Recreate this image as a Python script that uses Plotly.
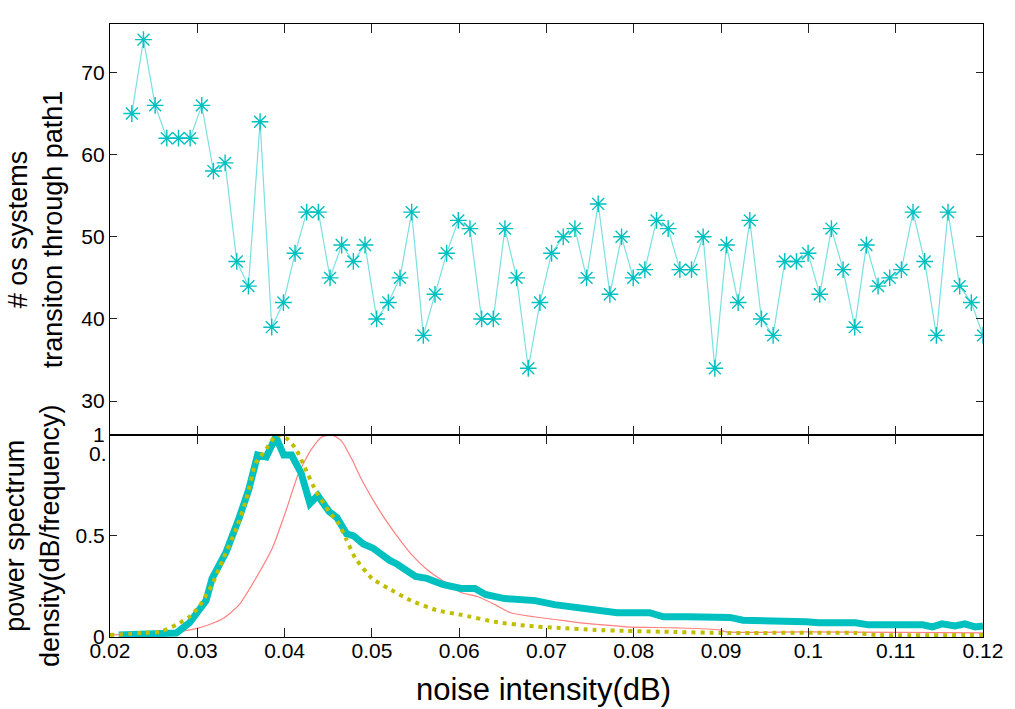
import numpy as np
import plotly.graph_objects as go

# ---- top panel data: transitions through path1 vs noise intensity ----
top_x_start = 0.0225
top_x_end = 0.12
transitions = [65, 74, 66, 62, 62, 62, 66, 58, 59, 47, 44, 64, 39, 42, 48, 53, 53, 45, 49, 47,
               49, 40, 42, 45, 53, 38, 43, 48, 52, 51, 40, 40, 51, 45, 34, 42, 48, 50, 51, 45,
               54, 43, 50, 45, 46, 52, 51, 46, 46, 50, 34, 49, 42, 52, 40, 38, 47, 47, 48, 43,
               51, 46, 39, 49, 44, 45, 46, 53, 47, 38, 53, 44, 42, 38]
noise_levels = np.linspace(top_x_start, top_x_end, len(transitions))

# ---- bottom panel data: normalised power spectrum density ----
cyan_x = [0.021, 0.0276, 0.0291, 0.0302, 0.0310, 0.0317, 0.0333, 0.0348, 0.0359, 0.0369,
          0.0379, 0.0390, 0.0399, 0.0408, 0.0419, 0.0429, 0.0438, 0.0451, 0.0460, 0.0471,
          0.0479, 0.0490, 0.0501, 0.0520, 0.0529, 0.0550, 0.0563, 0.0581, 0.0602, 0.0618,
          0.0630, 0.0652, 0.0687, 0.0709, 0.0724, 0.0747, 0.0766, 0.0781, 0.0818, 0.0834,
          0.0861, 0.0883, 0.0910, 0.0925, 0.0960, 0.0974, 0.0997, 0.1012, 0.1054, 0.1069,
          0.1131, 0.1142, 0.1153, 0.1168, 0.1179, 0.1191, 0.12]
cyan_y = [0.01, 0.02, 0.07, 0.13, 0.18, 0.29, 0.42, 0.59, 0.73, 0.90,
          0.89, 0.99, 0.90, 0.90, 0.81, 0.66, 0.70, 0.62, 0.59, 0.51,
          0.50, 0.46, 0.44, 0.38, 0.36, 0.30, 0.29, 0.26, 0.24, 0.24,
          0.21, 0.19, 0.18, 0.16, 0.15, 0.14, 0.13, 0.12, 0.12, 0.10,
          0.10, 0.097, 0.097, 0.083, 0.083, 0.075, 0.075, 0.07, 0.07, 0.06,
          0.06, 0.05, 0.065, 0.055, 0.065, 0.05, 0.055]

yellow_x = [0.020, 0.0238, 0.0257, 0.0276, 0.0291, 0.0302, 0.0317, 0.0329, 0.0345, 0.0356,
            0.0367, 0.0379, 0.0391, 0.0403, 0.0413, 0.0424, 0.0436, 0.0451, 0.0462, 0.0471,
            0.0481, 0.0500, 0.0519, 0.0545, 0.0576, 0.0602, 0.0641, 0.0678, 0.0716, 0.0755,
            0.0792, 0.0846, 0.0903, 0.1054, 0.1077, 0.12]
yellow_y = [0.01, 0.02, 0.025, 0.06, 0.10, 0.15, 0.26, 0.38, 0.54, 0.68,
            0.86, 0.93, 1.00, 0.98, 0.93, 0.83, 0.72, 0.62, 0.56, 0.48,
            0.39, 0.29, 0.24, 0.18, 0.13, 0.11, 0.075, 0.055, 0.045, 0.035,
            0.03, 0.025, 0.02, 0.02, 0.01, 0.01]

red_x = [0.020, 0.0265, 0.0302, 0.0329, 0.0348, 0.0367, 0.0386, 0.0402, 0.0416, 0.0431,
         0.0443, 0.0454, 0.0465, 0.0477, 0.0488, 0.0508, 0.0527, 0.0545, 0.0564, 0.0584,
         0.0602, 0.0621, 0.0641, 0.0659, 0.0686, 0.0716, 0.0739, 0.0766, 0.0792, 0.0849,
         0.0898, 0.0906, 0.0997, 0.12]
red_y = [0.01, 0.02, 0.045, 0.09, 0.16, 0.29, 0.44, 0.63, 0.81, 0.93,
         0.99, 1.00, 0.97, 0.88, 0.78, 0.63, 0.51, 0.41, 0.33, 0.27,
         0.22, 0.20, 0.16, 0.12, 0.10, 0.083, 0.07, 0.06, 0.05, 0.045,
         0.035, 0.025, 0.025, 0.02]

x_ticks = [0.02, 0.03, 0.04, 0.05, 0.06, 0.07, 0.08, 0.09, 0.1, 0.11, 0.12]
x_tick_text = ["0.02", "0.03", "0.04", "0.05", "0.06", "0.07", "0.08", "0.09", "0.1", "0.11", "0.12"]
top_y_ticks = [30, 40, 50, 60, 70]
bot_y_ticks = [0, 0.5, 1]
bot_y_tick_text = ["0", "0.5", "1"]

FONT = "Arial, Liberation Sans, sans-serif"
CYAN = "#00c0c0"

fig = go.Figure()

fig.add_trace(go.Scatter(
    x=noise_levels, y=transitions, mode="lines+markers",
    xaxis="x2", yaxis="y2",
    line=dict(color="#7ae0e0", width=1.2),
    marker=dict(symbol="asterisk-open", size=14, color=CYAN,
                line=dict(color=CYAN, width=1.4)),
    showlegend=False,
))

fig.add_trace(go.Scatter(
    x=red_x, y=red_y, mode="lines", xaxis="x", yaxis="y",
    line=dict(color="#ff8080", width=1.2, shape="spline", smoothing=0.6),
    showlegend=False,
))
fig.add_trace(go.Scatter(
    x=cyan_x, y=cyan_y, mode="lines", xaxis="x", yaxis="y",
    line=dict(color=CYAN, width=7),
    showlegend=False,
))
fig.add_trace(go.Scatter(
    x=yellow_x, y=yellow_y, mode="lines", xaxis="x", yaxis="y",
    line=dict(color="#bfbf00", width=4, dash="4px,5px", shape="spline", smoothing=0.5),
    showlegend=False,
))

split = (637 - 432.5) / 620.0

axis_common = dict(showline=True, linecolor="black", linewidth=1.2, mirror="ticks",
                   ticks="inside", tickcolor="#222222", tickwidth=1.3,
                   showgrid=False, zeroline=False,
                   tickfont=dict(family=FONT, size=21, color="black"))

fig.update_layout(
    width=1015, height=709,
    margin=dict(l=110, r=26, t=17, b=72),
    paper_bgcolor="white", plot_bgcolor="white",
    xaxis=dict(domain=[0, 1], range=[0.02, 0.12], tickvals=x_ticks, ticktext=x_tick_text,
               ticklen=9, anchor="y", ticklabelstandoff=-5, **axis_common),
    yaxis=dict(domain=[0, split], range=[0, 1], tickvals=bot_y_ticks, ticktext=bot_y_tick_text,
               ticklen=7, anchor="x", **axis_common),
    xaxis2=dict(domain=[0, 1], range=[0.02, 0.12], tickvals=x_ticks, showticklabels=False,
                ticklen=9, anchor="y2", matches="x", **axis_common),
    yaxis2=dict(domain=[split, 1], range=[25.9, 75.9], tickvals=top_y_ticks,
                ticklen=7, anchor="x2", **axis_common),
)

annotations = [
    dict(text="# os systems<br>transiton through path1", x=-0.086, y=(split + 1) / 2,
         xref="paper", yref="paper", textangle=-90, showarrow=False,
         xanchor="center", yanchor="middle",
         font=dict(family=FONT, size=27, color="black")),
    dict(text="power spectrum<br>density(dB/frequency)", x=-0.088, y=split / 2,
         xref="paper", yref="paper", textangle=-90, showarrow=False,
         xanchor="center", yanchor="middle",
         font=dict(family=FONT, size=27, color="black")),
    dict(text="noise intensity(dB)", x=0.496, y=-0.085,
         xref="paper", yref="paper", showarrow=False,
         xanchor="center", yanchor="middle",
         font=dict(family=FONT, size=31, color="black")),
    dict(text="0.", x=0.0, y=0.91, xref="paper", yref="y", showarrow=False,
         xanchor="right", yanchor="middle", xshift=-1,
         font=dict(family=FONT, size=21, color="black")),
]
fig.update_layout(annotations=annotations)

fig.write_html("out.html")
